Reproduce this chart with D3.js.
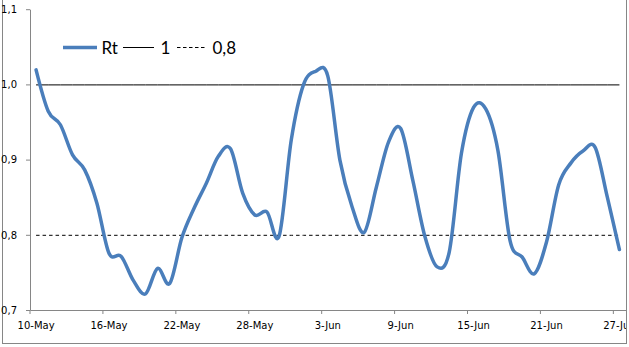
<!DOCTYPE html>
<html>
<head>
<meta charset="utf-8">
<script src="https://cdn.jsdelivr.net/npm/d3@7/dist/d3.min.js"></script>
<style>
  html, body { margin: 0; padding: 0; background: #fff; }
  svg { display: block; }
</style>
</head>
<body>
<svg id="chart" width="629" height="347"></svg>
<script>
// ---- data ----
const dates = [
  "10-May","11-May","12-May","13-May","14-May","15-May","16-May","17-May","18-May","19-May",
  "20-May","21-May","22-May","23-May","24-May","25-May","26-May","27-May","28-May","29-May",
  "30-May","31-May","1-Jun","2-Jun","3-Jun","4-Jun","5-Jun","6-Jun","7-Jun","8-Jun",
  "9-Jun","10-Jun","11-Jun","12-Jun","13-Jun","14-Jun","15-Jun","16-Jun","17-Jun","18-Jun",
  "19-Jun","20-Jun","21-Jun","22-Jun","23-Jun","24-Jun","25-Jun","26-Jun","27-Jun"
];
const rt = [
  1.020, 0.965, 0.947, 0.907, 0.887, 0.843, 0.776, 0.772, 0.740, 0.722,
  0.756, 0.736, 0.797, 0.836, 0.869, 0.905, 0.915, 0.856, 0.827, 0.831,
  0.799, 0.927, 1.000, 1.018, 1.012, 0.900, 0.838, 0.804, 0.864, 0.924,
  0.942, 0.873, 0.798, 0.758, 0.778, 0.909, 0.970, 0.968, 0.913, 0.793,
  0.771, 0.749, 0.791, 0.867, 0.896, 0.912, 0.917, 0.851, 0.781
];
const lineOne = dates.map(() => 1);
const lineEight = dates.map(() => 0.8);
const xTickLabels = ["10-May","16-May","22-May","28-May","3-Jun","9-Jun","15-Jun","21-Jun","27-Jun"];
const yTicks = [0.7, 0.8, 0.9, 1.0, 1.1];
const legendLabels = ["Rt", "1", "0,8"];

// ---- layout ----
const svg = d3.select("#chart");
const plotL = 30, plotR = 625.5, plotT = 9.2, plotB = 310;
const axisColor = "#868686";
const blue = "#4a7ebb";

// outer border
svg.append("rect")
  .attr("x", 2.5).attr("y", -2).attr("width", 624).attr("height", 345.5)
  .attr("fill", "none").attr("stroke", axisColor).attr("stroke-width", 1);

const x = d3.scaleBand().domain(dates).range([plotL, plotR]).padding(0);
const bw = x.bandwidth();
const xc = d => x(d) + bw / 2;
const y = d3.scaleLinear().domain([0.7, 1.1]).range([plotB, plotT]);

const loc = d3.formatLocale({decimal: ",", thousands: ".", grouping: [3], currency: ["", ""]});
const yFmt = loc.format(".1f");

// y axis
const yAxis = svg.append("g")
  .attr("transform", `translate(${plotL},0)`)
  .call(d3.axisLeft(y).tickValues(yTicks).tickFormat(yFmt).tickSize(4).tickPadding(9).tickSizeOuter(0));
yAxis.select(".domain").attr("stroke", axisColor);
yAxis.selectAll(".tick line").attr("stroke", axisColor);
yAxis.selectAll(".tick text")
  .attr("font-family", "DejaVu Sans, Verdana, sans-serif").attr("font-size", 10).attr("fill", "#000");

// x axis: labels at category centres, tick marks at category boundaries
svg.append("clipPath").attr("id", "clipx")
  .append("rect").attr("x", 0).attr("y", -12).attr("width", 626).attr("height", 40);
const xAxis = svg.append("g")
  .attr("transform", `translate(0,${plotB})`)
  .attr("clip-path", "url(#clipx)")
  .call(d3.axisBottom(x).tickValues(xTickLabels).tickSize(4).tickPadding(8).tickSizeOuter(0));
xAxis.select(".domain").attr("stroke", axisColor);
xAxis.selectAll(".tick line").attr("stroke", axisColor).attr("x1", -bw / 2).attr("x2", -bw / 2);
xAxis.selectAll(".tick text")
  .attr("font-family", "DejaVu Sans, Verdana, sans-serif").attr("font-size", 10).attr("fill", "#000");

// reference lines
const straight = d3.line().x((v, i) => xc(dates[i])).y(v => y(v) + 0.5);
svg.append("path").datum(lineOne)
  .attr("d", straight).attr("fill", "none").attr("stroke", "#000").attr("stroke-width", 1);
svg.append("path").datum(lineEight)
  .attr("d", straight).attr("fill", "none").attr("stroke", "#000").attr("stroke-width", 1)
  .attr("stroke-dasharray", "3.5,3");

// Rt curve
const smooth = d3.line().x((v, i) => xc(dates[i])).y(v => y(v) + 0.5).curve(d3.curveCardinal.tension(0));
svg.append("path").datum(rt)
  .attr("d", smooth).attr("fill", "none").attr("stroke", blue).attr("stroke-width", 3.5)
  .attr("stroke-linejoin", "round").attr("stroke-linecap", "round");

// legend
const lg = svg.append("g").attr("font-family", "Lato, Carlito, Calibri, sans-serif").attr("font-size", 17).attr("fill", "#000");
const legendItems = [
  {x1: 63, x2: 97, tx: 101.5, stroke: blue, w: 3.5, dash: null},
  {x1: 123, x2: 154, tx: 160.5, stroke: "#000", w: 1, dash: null},
  {x1: 177, x2: 207, tx: 212.5, stroke: "#000", w: 1, dash: "3.5,2.5"}
];
legendItems.forEach((it, i) => {
  const l = lg.append("line").attr("x1", it.x1).attr("x2", it.x2).attr("y1", 47.5).attr("y2", 47.5)
    .attr("stroke", it.stroke).attr("stroke-width", it.w);
  if (it.dash) l.attr("stroke-dasharray", it.dash);
  lg.append("text").attr("x", it.tx).attr("y", 53.5).text(legendLabels[i]);
});
</script>
</body>
</html>
